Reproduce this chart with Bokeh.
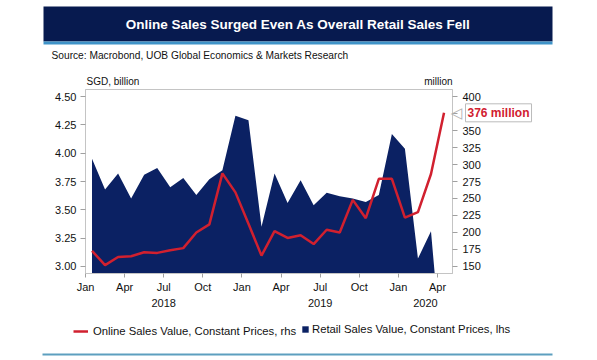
import numpy as np
import pandas as pd
from bokeh.plotting import figure
from bokeh.layouts import column
from bokeh.models import (Range1d, LinearAxis, FixedTicker, Legend, LegendItem, Label,
                          ColumnDataSource)
from bokeh.embed import file_html
from bokeh.resources import INLINE

# ---------------- data ----------------
months = pd.period_range("2018-01", "2020-04", freq="M")
retail_sgd_bn = [3.95, 3.68, 3.82, 3.60, 3.81, 3.87, 3.70, 3.78, 3.63, 3.77, 3.85, 4.33,
                 4.29, 3.35, 3.82, 3.56, 3.76, 3.54, 3.65, 3.62, 3.60, 3.57, 3.63, 4.17,
                 4.04, 3.07, 3.31, 2.00]
online_sgd_mn = [173, 152, 164, 165, 171, 170, 174, 177, 200, 212, 287, 259,
                 213, 166, 202, 192, 196, 183, 204, 200, 248, 221, 279, 279,
                 222, 230, 286, 376]
left_ticks = [3.00, 3.25, 3.50, 3.75, 4.00, 4.25, 4.50]
right_ticks = [150, 175, 200, 225, 250, 275, 300, 325, 350, 375, 400]
quarter_names = {1: "Jan", 4: "Apr", 7: "Jul", 10: "Oct"}

title = "Online Sales Surged Even As Overall Retail Sales Fell"
source_txt = "Source: Macrobond, UOB Global Economics & Markets Research"
online_name = "Online Sales Value, Constant Prices, rhs"
retail_name = "Retail Sales Value, Constant Prices, lhs"

# ---------------- styling ----------------
FONT = "Liberation Sans"
NAVY = "#0b2163"
BANNER = "#071a4f"
STRIPE = "#3f93c8"
RED = "#d1202f"
GRID = "#c4c4c4"
TXT = "#111111"
W = 597


def no_align(fig):
    if "frame_align" in fig.properties():
        fig.frame_align = False


# ================= header =================
HH = 88
hdr = figure(width=W, height=HH, output_backend="svg", toolbar_location=None,
             x_range=Range1d(0, W), y_range=Range1d(HH, 0),
             min_border=0, min_border_left=0, min_border_right=0,
             min_border_top=0, min_border_bottom=0)
no_align(hdr)
hdr.axis.visible = False
hdr.grid.visible = False
hdr.outline_line_color = None
hdr.quad(left=[43], right=[552], top=[6], bottom=[41], fill_color=BANNER, line_color=None)
hdr.quad(left=[43], right=[552], top=[41], bottom=[44], fill_color=STRIPE, line_color=None)
hdr.add_layout(Label(x=297.5, y=23.5, text=title, text_align="center", text_baseline="middle",
                     text_font=FONT, text_font_style="bold", text_font_size="13.5px",
                     text_color="white"))
hdr.add_layout(Label(x=51, y=55, text=source_txt, text_align="left", text_baseline="middle",
                     text_font=FONT, text_font_size="10.2px", text_color=TXT))
hdr.add_layout(Label(x=86, y=81, text="SGD, billion", text_align="left",
                     text_baseline="middle", text_font=FONT, text_font_size="10px",
                     text_color=TXT))
hdr.add_layout(Label(x=452, y=81, text="million", text_align="right",
                     text_baseline="middle", text_font=FONT, text_font_size="10px",
                     text_color=TXT))

# ================= main chart =================
x = np.arange(len(months)) + 0.5
x_end = 28.15
src = ColumnDataSource(dict(x=x, retail=retail_sgd_bn, online=online_sgd_mn,
                            base=[0.0] * len(months)))

MH = 224
FL, FR, FT, FB = 85, 452, 1, 185
p = figure(width=W, height=MH, output_backend="svg", toolbar_location=None,
           x_range=Range1d(0, x_end), y_range=Range1d(2.938, 4.562),
           min_border_left=FL, min_border_right=W - FR, min_border_top=FT,
           min_border_bottom=MH - FB)
no_align(p)
p.extra_y_ranges = {"right": Range1d(139.7, 410.3)}
p.grid.visible = False
p.outline_line_color = GRID

r_area = p.varea(x="x", y1="base", y2="retail", source=src, fill_color=NAVY)
r_line = p.line(x="x", y="online", source=src, line_color=RED, line_width=2.5,
                y_range_name="right")


def style_axis(ax):
    ax.axis_line_color = GRID
    ax.major_tick_line_color = "#a0a0a0"
    ax.minor_tick_line_color = None
    ax.major_tick_in = 0
    ax.major_tick_out = 5
    ax.major_label_text_font = FONT
    ax.major_label_text_font_size = "11px"
    ax.major_label_text_color = TXT


ya = p.yaxis[0]
style_axis(ya)
ya.ticker = FixedTicker(ticks=left_ticks)
ya.major_label_overrides = {t: f"{t:.2f}" for t in left_ticks}
ya.major_label_standoff = 4

ra = LinearAxis(y_range_name="right", ticker=FixedTicker(ticks=right_ticks))
style_axis(ra)
ra.major_label_standoff = 5
ra.major_label_overrides = {online_sgd_mn[-1] - online_sgd_mn[-1] % 25: ""}  # hidden by callout
p.add_layout(ra, "right")

xa = p.xaxis[0]
style_axis(xa)
xa.major_tick_out = 4
q_idx = [i for i, m in enumerate(months) if m.month in quarter_names]
xa.ticker = FixedTicker(ticks=q_idx)
xa.major_label_overrides = {i: quarter_names[months[i].month] for i in q_idx}
xa.major_label_standoff = 3

years = sorted(set(m.year for m in months))
year_pos = []
for yr in years:
    idx = [i for i, m in enumerate(months) if m.year == yr]
    start = idx[0]
    end = min(idx[0] + 12, x_end)
    year_pos.append(round((start + end) / 2, 2))
yax = LinearAxis(ticker=FixedTicker(ticks=year_pos))
style_axis(yax)
yax.axis_line_color = None
yax.major_tick_line_color = None
yax.major_tick_out = 0
yax.major_label_standoff = 3
yax.major_label_overrides = {pos: str(yr) for pos, yr in zip(year_pos, years)}
p.add_layout(yax, "below")

# callout for last online value (placed in right side panel, so it is not clipped)
last_val = online_sgd_mn[-1]
p.add_layout(Label(x=450, x_units="canvas", y=last_val, y_units="data",
                   y_range_name="right", text="\u25c1", text_align="left",
                   text_baseline="middle", text_font="DejaVu Sans",
                   text_font_size="15px", text_color="#b0b0b0"), "right")
p.add_layout(Label(x=465, x_units="canvas", y=last_val, y_units="data",
                   y_range_name="right", text=f"{last_val} million", text_align="left",
                   text_baseline="middle", text_font=FONT, text_font_style="bold",
                   text_font_size="12px", text_color=RED,
                   background_fill_color="white", border_line_color="#bbbbbb",
                   padding=2), "right")

# ================= footer (legend + rule) =================
FH = 360 - HH - MH
ftr = figure(width=W, height=FH, output_backend="svg", toolbar_location=None,
             x_range=Range1d(0, W), y_range=Range1d(FH, 0),
             min_border=0, min_border_left=0, min_border_right=0,
             min_border_top=0, min_border_bottom=0)
no_align(ftr)
ftr.axis.visible = False
ftr.grid.visible = False
ftr.outline_line_color = None
# zero-size proxies carrying the series styles for the legend
leg_line = ftr.line(x=[0, 0], y=[0, 0], line_color=RED, line_width=2.5)
leg_area = ftr.varea(x=[0], y1=[0], y2=[0], fill_color=NAVY)
ftr.quad(left=[42], right=[552], top=[41], bottom=[43], fill_color="#5d9fbf", line_color=None)

leg_y = FH - 25  # bottom of legend row, measured up from the footer's bottom
leg1 = Legend(items=[LegendItem(label=online_name, renderers=[leg_line])],
              location=(73, leg_y), orientation="horizontal",
              glyph_width=15, glyph_height=10, label_height=12, label_standoff=5,
              padding=0, margin=0, spacing=0, border_line_color=None,
              background_fill_alpha=0, label_text_font=FONT,
              label_text_font_size="11.3px", label_text_color=TXT)
leg2 = Legend(items=[LegendItem(label=retail_name, renderers=[leg_area])],
              location=(301, leg_y + 2), orientation="horizontal",
              glyph_width=8, glyph_height=8, label_height=8, label_standoff=3,
              padding=0, margin=0, spacing=0, border_line_color=None,
              background_fill_alpha=0, label_text_font=FONT,
              label_text_font_size="11.3px", label_text_color=TXT)
ftr.add_layout(leg1, "center")
ftr.add_layout(leg2, "center")

layout = column(hdr, p, ftr, spacing=0)
open("out.html", "w").write(file_html(layout, INLINE))
